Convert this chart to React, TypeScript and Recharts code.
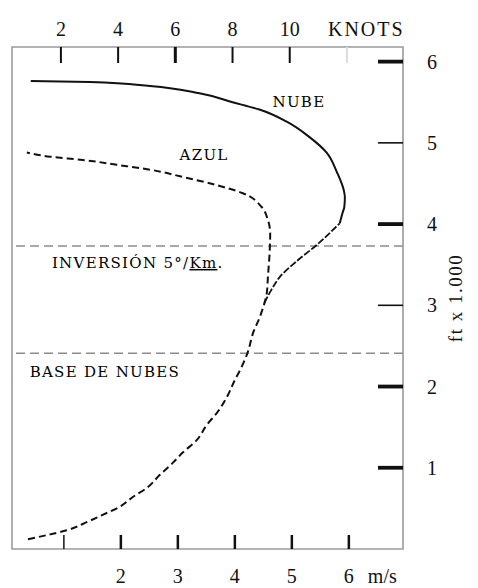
import React from 'react';
import { ComposedChart, Line, XAxis, YAxis, ReferenceLine, ReferenceArea, ReferenceDot } from 'recharts';

// speed (m/s) vs height (ft x 1000)
const msTicks = [1, 2, 3, 4, 5, 6];
const knotTicks = [2, 4, 6, 8, 10, 12];
const heightTicks = [1, 2, 3, 4, 5, 6];

const inversionHeight = 3.73;
const cloudBaseHeight = 2.41;

// AZUL: clear-air profile, includes the shared lower branch
const azulProfile = [
  { h: 0.12, v: 0.37 }, { h: 0.18, v: 0.76 }, { h: 0.23, v: 1.05 }, { h: 0.33, v: 1.4 },
  { h: 0.42, v: 1.68 }, { h: 0.52, v: 1.98 }, { h: 0.64, v: 2.21 }, { h: 0.76, v: 2.47 },
  { h: 0.91, v: 2.68 }, { h: 1.06, v: 2.91 }, { h: 1.19, v: 3.09 }, { h: 1.34, v: 3.33 },
  { h: 1.53, v: 3.51 }, { h: 1.69, v: 3.7 }, { h: 1.87, v: 3.86 }, { h: 2.08, v: 4.0 },
  { h: 2.2, v: 4.09 }, { h: 2.43, v: 4.23 }, { h: 2.66, v: 4.32 }, { h: 2.86, v: 4.44 },
  { h: 3.03, v: 4.52 }, { h: 3.15, v: 4.56 }, { h: 3.35, v: 4.58 }, { h: 3.65, v: 4.61 },
  { h: 3.89, v: 4.62 }, { h: 4.05, v: 4.58 }, { h: 4.21, v: 4.47 }, { h: 4.38, v: 4.14 },
  { h: 4.48, v: 3.68 }, { h: 4.58, v: 3.09 }, { h: 4.67, v: 2.51 }, { h: 4.73, v: 1.93 },
  { h: 4.79, v: 1.33 }, { h: 4.83, v: 0.76 }, { h: 4.88, v: 0.35 },
];

// NUBE: in-cloud profile, rough lower part then solid
const nubeLower = [
  { h: 3.03, v: 4.52 }, { h: 3.19, v: 4.64 }, { h: 3.35, v: 4.79 }, { h: 3.54, v: 5.08 },
  { h: 3.74, v: 5.43 }, { h: 4.01, v: 5.84 },
];
const nubeUpper = [
  { h: 4.01, v: 5.84 }, { h: 4.14, v: 5.89 }, { h: 4.21, v: 5.92 }, { h: 4.33, v: 5.93 },
  { h: 4.42, v: 5.91 }, { h: 4.64, v: 5.79 }, { h: 4.88, v: 5.61 }, { h: 5.07, v: 5.31 },
  { h: 5.26, v: 4.91 }, { h: 5.41, v: 4.43 }, { h: 5.5, v: 3.96 }, { h: 5.61, v: 3.38 },
  { h: 5.7, v: 2.51 }, { h: 5.75, v: 1.46 }, { h: 5.76, v: 0.42 },
];

const W = 462;
const H = 580;
const X_DOMAIN = [0.09, 6.95];
const KNOT_DOMAIN = [0.29, 13.96];
const Y_DOMAIN = [0, 6.18];

const SERIF = '"Liberation Serif", "Times New Roman", serif';
const SLAB = '"DejaVu Serif", serif';
const FRAME = '#9a9a9a';

function TopTick(props: any) {
  const { x, y, payload } = props;
  const v = payload.value;
  const last = v === 12;
  return (
    <g>
      <line x1={x} x2={x} y1={y} y2={y + 16} stroke={last ? '#ddd' : '#111'} strokeWidth={v === 6 ? 3 : 2} />
      {last ? (
        <text x={x - 19} y={y - 11} fontFamily={SERIF} fontSize={20} letterSpacing={2} fill="#111">KNOTS</text>
      ) : (
        <text x={x} y={y - 11} textAnchor="middle" fontFamily={SERIF} fontSize={20} fill="#111">{v}</text>
      )}
    </g>
  );
}

function BottomTick(props: any) {
  const { x, y, payload } = props;
  const v = payload.value;
  return (
    <g>
      <line x1={x} x2={x} y1={y} y2={y - 14} stroke="#111" strokeWidth={v === 1 ? 1.5 : 2.5} />
      {v !== 1 && (
        <text x={x} y={y + 34} textAnchor="middle" fontFamily={SERIF} fontSize={20} fill="#111">{v}</text>
      )}
      {v === 6 && (
        <text x={x + 19} y={y + 34} fontFamily={SERIF} fontSize={20} fill="#111">m/s</text>
      )}
    </g>
  );
}

function RightTick(props: any) {
  const { x, y, payload } = props;
  const v = payload.value;
  const thin = v === 5 || v === 3;
  return (
    <g>
      <line x1={x} x2={x - 25} y1={y} y2={y} stroke="#111" strokeWidth={thin ? 1.6 : 3.8} />
      <text x={x + 29} y={y + 7} textAnchor="middle" fontFamily={SERIF} fontSize={20} fill="#111">{v}</text>
    </g>
  );
}

const heightLabel = (props: any) => {
  const vb = props.viewBox;
  const cx = vb.x + 52;
  const cy = vb.y + vb.height / 2;
  return (
    <text x={cx} y={cy} transform={`rotate(-90 ${cx} ${cy})`} textAnchor="middle" dominantBaseline="central"
      fontFamily={SERIF} fontSize={19} letterSpacing={1.5} fill="#111">
      ft x 1.000
    </text>
  );
};

const plotLabel = (content: React.ReactNode) => (props: any) => {
  const vb = props.viewBox;
  return (
    <text x={vb.x} y={vb.y} fontFamily={SLAB} fontSize={15} letterSpacing={1.3} fill="#000">
      {content}
    </text>
  );
};

export default function App() {
  return (
    <ComposedChart width={W} height={H} layout="vertical" margin={{ top: 9, right: 7, bottom: 9, left: 4 }}>
      <XAxis xAxisId={0} type="number" dataKey="v" orientation="bottom" domain={X_DOMAIN} allowDataOverflow
        ticks={msTicks} interval={0} height={30} axisLine={false} tickLine={false} tickSize={0} tickMargin={0}
        tick={<BottomTick />} />
      <XAxis xAxisId="top" type="number" orientation="top" domain={KNOT_DOMAIN} allowDataOverflow
        ticks={knotTicks} interval={0} height={30} axisLine={false} tickLine={false} tickSize={0} tickMargin={0}
        tick={<TopTick />} />
      <YAxis type="number" dataKey="h" orientation="right" domain={Y_DOMAIN} allowDataOverflow reversed
        ticks={heightTicks} interval={0} width={60} axisLine={false} tickLine={false} tickSize={0} tickMargin={0}
        tick={<RightTick />} label={heightLabel} />

      <ReferenceArea x1={X_DOMAIN[0]} x2={X_DOMAIN[1]} y1={Y_DOMAIN[0]} y2={Y_DOMAIN[1]}
        fill="none" fillOpacity={0} stroke={FRAME} strokeWidth={1.6} />
      <ReferenceLine y={inversionHeight} stroke="#8c8c8c" strokeWidth={1.3} strokeDasharray="9 5" />
      <ReferenceLine y={cloudBaseHeight} stroke="#8c8c8c" strokeWidth={1.3} strokeDasharray="9 5" />

      <Line data={azulProfile} dataKey="v" type="monotone" stroke="#111" strokeWidth={2}
        strokeDasharray="7 4" dot={false} activeDot={false} isAnimationActive={false} />
      <Line data={nubeLower} dataKey="v" type="monotone" stroke="#111" strokeWidth={1.8}
        strokeDasharray="7 2" dot={false} activeDot={false} isAnimationActive={false} />
      <Line data={nubeUpper} dataKey="v" type="monotone" stroke="#111" strokeWidth={2}
        dot={false} activeDot={false} isAnimationActive={false} />

      <ReferenceDot x={4.66} y={5.44} r={0} stroke="none" label={plotLabel('NUBE')} />
      <ReferenceDot x={3.03} y={4.79} r={0} stroke="none" label={plotLabel('AZUL')} />
      <ReferenceDot x={0.79} y={3.46} r={0} stroke="none"
        label={plotLabel(<>INVERSIÓN 5°/<tspan textDecoration="underline">Km</tspan>.</>)} />
      <ReferenceDot x={0.4} y={2.12} r={0} stroke="none" label={plotLabel('BASE DE NUBES')} />
    </ComposedChart>
  );
}
